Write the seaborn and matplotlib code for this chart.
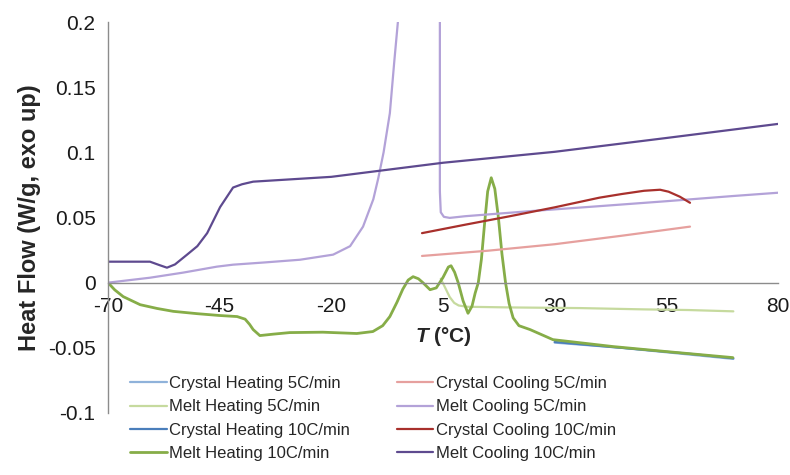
import pandas as pd
import numpy as np
import matplotlib
matplotlib.use("Agg")
import matplotlib.pyplot as plt
import seaborn as sns

# DSC traces (T in degC, heat flow in W/g, exo up)
ch5_T = [30, 45, 70]
ch5_hf = [-0.046, -0.050, -0.0585]

mh5_T = [4.5, 5.5, 6.5, 7.5, 8.5, 10.4, 20, 35.7, 50, 60, 70]
mh5_hf = [0.003, -0.004, -0.011, -0.0155, -0.0175, -0.0185, -0.019, -0.0195, -0.0205, -0.021, -0.022]

ch10_T = [30, 40, 50, 60, 70]
ch10_hf = [-0.0455, -0.0485, -0.0515, -0.0545, -0.058]

mh10_T = [-70, -68.5, -66.6, -62.8, -59, -55.4, -50, -45, -41.1, -39.3, -38.3, -37.5, -36,
          -33, -29.3, -21.9, -14.3, -10.7, -8.5, -6.9, -5.3, -4, -2.8, -1.7, -0.5, 0.5,
          2.1, 3.5, 5, 6.2, 6.8, 7.6, 8.4, 9.5, 10.6, 11.5, 12.2, 12.9, 13.6, 14.3, 15,
          15.8, 16.6, 17.4, 18.2, 19.0, 19.8, 20.7, 22, 24.5, 29.6, 43, 55.1, 69.9]
mh10_hf = [0.0, -0.0055, -0.0107, -0.0169, -0.0198, -0.022, -0.0238, -0.0252, -0.026, -0.028,
           -0.032, -0.036, -0.0406, -0.0395, -0.0383, -0.038, -0.039, -0.0375, -0.033, -0.026,
           -0.015, -0.005, 0.002, 0.0046, 0.003, 0.0, -0.0054, -0.004, 0.004, 0.012, 0.013,
           0.008, 0.0, -0.014, -0.0235, -0.018, -0.008, 0.0, 0.018, 0.045, 0.07, 0.0805,
           0.072, 0.05, 0.022, 0.0, -0.016, -0.027, -0.033, -0.036, -0.0437, -0.049,
           -0.0529, -0.0575]

cc5_T = [60.3, 45, 30, 15, 0.3]
cc5_hf = [0.043, 0.036, 0.0295, 0.0245, 0.0205]

mc5_T = [80, 70, 55, 40, 25, 10, 6.5, 5.2, 4.5, 4.3, 4.3, 4.25, -4.6, -5.1, -5.9, -6.9,
         -8.3, -9.5, -10.6, -12.9, -15.8, -19.6, -27, -35, -42, -45.6, -53.2, -60.6, -70]
mc5_hf = [0.069, 0.0665, 0.0625, 0.0587, 0.055, 0.051, 0.0497, 0.0505, 0.054, 0.07, 0.2,
          0.45, 0.45, 0.2, 0.17, 0.13, 0.10, 0.08, 0.064, 0.043, 0.028, 0.0215, 0.0176,
          0.0155, 0.0138, 0.0123, 0.0077, 0.0038, 0.0]

cc10_T = [60.3, 58, 55.5, 53.6, 50, 45, 40, 30, 20, 10, 0.3]
cc10_hf = [0.0613, 0.066, 0.0698, 0.0713, 0.0705, 0.068, 0.0652, 0.0578, 0.051, 0.0445, 0.038]

mc10_T = [80, 55, 30, 5, -20, -37.5, -40, -42, -44.9, -47.8, -50, -52.3, -55, -56.8,
          -58.5, -60.6, -65, -70]
mc10_hf = [0.1218, 0.111, 0.1004, 0.092, 0.0812, 0.0775, 0.0755, 0.073, 0.058, 0.038,
           0.028, 0.0215, 0.014, 0.0115, 0.0135, 0.0161, 0.0161, 0.0161]

labels = ["Crystal Heating 5C/min", "Melt Heating 5C/min", "Crystal Heating 10C/min",
          "Melt Heating 10C/min", "Crystal Cooling 5C/min", "Melt Cooling 5C/min",
          "Crystal Cooling 10C/min", "Melt Cooling 10C/min"]
colors = ["#8FB2DA", "#C6DA9E", "#4A7EBB", "#86AD48",
          "#E6A09E", "#B3A2D8", "#A8302C", "#5E4A8F"]
series = [(ch5_T, ch5_hf), (mh5_T, mh5_hf), (ch10_T, ch10_hf), (mh10_T, mh10_hf),
          (cc5_T, cc5_hf), (mc5_T, mc5_hf), (cc10_T, cc10_hf), (mc10_T, mc10_hf)]

sns.set_style("white")
plt.rcParams['font.family'] = ['Liberation Sans', 'DejaVu Sans']
plt.rcParams['mathtext.fontset'] = 'custom'
plt.rcParams['mathtext.bfit'] = 'Liberation Sans:italic:bold'
plt.rcParams['axes.unicode_minus'] = False

fig = plt.figure(figsize=(7.9, 4.75), dpi=100)
ax = fig.add_axes([108/790, 62/475, 670/790, 391/475])

for (t, hf), lab, col in zip(series, labels, colors):
    df = pd.DataFrame({'T': t, 'HF': hf})
    lw = 2.0 if lab == "Melt Heating 10C/min" else 1.6
    sns.lineplot(data=df, x='T', y='HF', sort=False, estimator=None, color=col,
                 lw=lw, label=lab, ax=ax, legend=False)

ax.set_xlim(-70, 80)
ax.set_ylim(-0.1, 0.2)
ax.set_xticks([-70, -45, -20, 5, 30, 55, 80])
ax.set_yticks([-0.1, -0.05, 0, 0.05, 0.1, 0.15, 0.2])
ax.set_yticklabels(["-0.1", "-0.05", "0", "0.05", "0.1", "0.15", "0.2"])

for s in ['top', 'right']:
    ax.spines[s].set_visible(False)
ax.spines['bottom'].set_position(('data', 0))
for s in ['left', 'bottom']:
    ax.spines[s].set_color('#8C8C8C')
    ax.spines[s].set_linewidth(1.0)

ax.tick_params(axis='x', direction='in', length=5, color='#8C8C8C', labelsize=15,
               labelcolor='#1a1a1a', pad=10)
ax.tick_params(axis='y', direction='out', length=5, color='#8C8C8C', labelsize=15,
               labelcolor='#1a1a1a', pad=4)

ax.set_xlabel(r'$\mathbfit{T}$ (°C)', fontsize=15, fontweight='bold', labelpad=7)
ax.set_ylabel('Heat Flow (W/g, exo up)', fontsize=17, fontweight='bold', labelpad=5)

handles, labs = ax.get_legend_handles_labels()
fig.legend(handles, labs, loc='upper left', bbox_to_anchor=(130/790, 1 - 376/475),
           ncol=2, frameon=False, fontsize=12, handlelength=2.2, handletextpad=0.15,
           columnspacing=2.8, labelspacing=0.5, borderpad=0, borderaxespad=0)

fig.savefig('out.png', dpi=100)
